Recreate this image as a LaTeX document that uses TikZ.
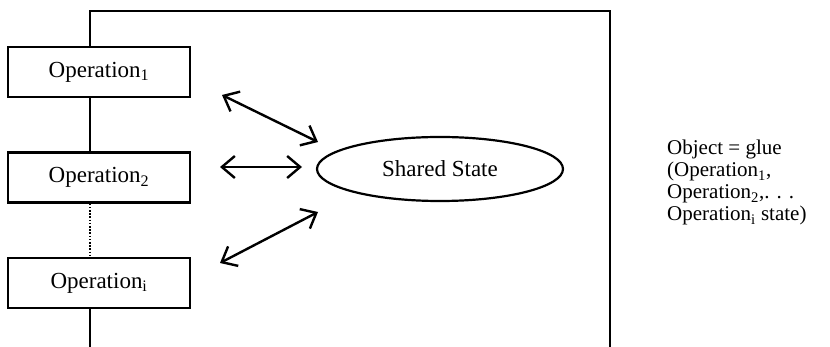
\documentclass[tikz,border=0pt]{standalone}
\usepackage{fontspec}
\setmainfont{Liberation Serif}
\usetikzlibrary{shapes.geometric,arrows.meta}
\begin{document}
\begin{tikzpicture}[x=1pt,y=-1pt,
  txt/.style={font=\fontsize{23}{24}\selectfont},
  opbox/.style={draw,line width=2.2pt,minimum width=182pt,minimum height=50pt,inner sep=0pt,txt},
  frameline/.style={line width=2.2pt},
  dblarrow/.style={line width=2.4pt,{Straight Barb[length=13pt,width=22pt]}-{Straight Barb[length=13pt,width=22pt]}}]
\useasboundingbox (0,0) rectangle (830,347);
\node[opbox] (op1) at (99,72) {Operation\textsubscript{1}};
\node[opbox] (op2) at (99,177.5) {Operation\textsubscript{2}};
\node[opbox] (opi) at (99,283) {Operation\textsubscript{i}};
\coordinate (tl) at (90,11);
\coordinate (tr) at (610,11);
\coordinate (br) at (610,347);
\coordinate (bl) at (90,347);
\draw[frameline] (op1.north -| tl) -- (tl) -- (tr) -- (br);
\draw[frameline] (op1.south -| tl) -- (op2.north -| tl);
\draw[frameline,dash pattern=on 1.6pt off 1.6pt] (op2.south -| tl) -- (opi.north -| tl);
\draw[frameline] (opi.south -| tl) -- (bl);
\node[ellipse,draw,line width=2.2pt,minimum width=246pt,minimum height=64pt,inner sep=0pt,txt] (ss) at (440,169) {Shared State};
\coordinate (a1s) at (222,95);
\coordinate (a1e) at (318,142);
\coordinate (a2s) at (220,167);
\coordinate (a2e) at (302,167);
\coordinate (a3s) at (220,263);
\coordinate (a3e) at (318,212);
\draw[dblarrow] (a1s) -- (a1e);
\draw[dblarrow] (a2s) -- (a2e);
\draw[dblarrow] (a3s) -- (a3e);
\node[anchor=base west,inner sep=0pt,font=\fontsize{21}{22}\selectfont] (obj) at (667,155) {\begin{tabular}[t]{@{}l@{}}Object = glue\\(Operation\textsubscript{1},\\Operation\textsubscript{2},. . .\\Operation\textsubscript{i} state)\end{tabular}};
\end{tikzpicture}
\end{document}
